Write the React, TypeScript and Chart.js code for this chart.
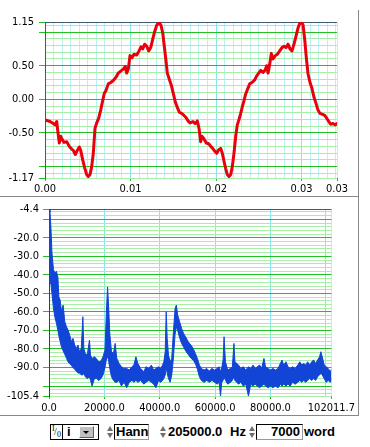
import React, { useEffect, useRef } from "react";
import { Chart, registerables } from "chart.js";

Chart.register(...registerables);

// ---------- time signal (top graph) ----------
const TIME_MS = [
  0, 0.117, 0.585, 0.971, 1.169, 1.368, 1.485, 1.672, 1.836, 2.023,
  2.222, 2.538, 2.842, 3.122, 3.309, 3.543, 3.777, 4.011, 4.175, 4.409,
  4.643, 4.876, 5.064, 5.262, 5.461, 5.648, 5.847, 6.046, 6.28, 6.513,
  6.747, 6.934, 7.133, 7.402, 7.683, 7.987, 8.303, 8.572, 8.852, 9.156,
  9.39, 9.554, 9.741, 9.94, 10.174, 10.408, 10.723, 10.992, 11.226, 11.425,
  11.659, 11.893, 12.127, 12.361, 12.594, 12.828, 13.062, 13.331, 13.565, 13.764,
  13.951, 14.15, 14.302, 14.536, 14.77, 15.003, 15.237, 15.471, 15.705, 15.986,
  16.255, 16.489, 16.722, 16.956, 17.307, 17.576, 17.81, 18.009, 18.208, 18.36,
  18.594, 18.863, 19.143, 19.377, 19.611, 19.845, 20.079, 20.313, 20.547, 20.734,
  20.932, 21.131, 21.318, 21.517, 21.716, 21.903, 22.101, 22.3, 22.487, 22.686,
  22.885, 23.072, 23.271, 23.47, 23.657, 23.938, 24.206, 24.522, 24.756, 24.99,
  25.224, 25.493, 25.762, 25.925, 26.077, 26.276, 26.463, 26.662, 26.931, 27.165,
  27.446, 27.714, 27.948, 28.182, 28.416, 28.65, 28.884, 29.118, 29.352, 29.586,
  29.82, 29.972, 30.171, 30.37, 30.557, 30.756, 30.99, 31.223, 31.457, 31.691,
  31.925, 32.159, 32.393, 32.709, 32.942, 33.176, 33.41, 33.679, 33.948, 34.146,
];
const WAVE = [
  -0.32, -0.31, -0.33, -0.36, -0.38, -0.33, -0.46, -0.65, -0.55, -0.6,
  -0.64, -0.63, -0.7, -0.74, -0.76, -0.82, -0.76, -0.71, -0.76, -0.9,
  -1.02, -1.12, -1.15, -1.12, -1.0, -0.8, -0.43, -0.35, -0.28, -0.16,
  -0.02, 0.09, 0.13, 0.23, 0.25, 0.28, 0.33, 0.39, 0.42, 0.45,
  0.49, 0.39, 0.45, 0.65, 0.62, 0.67, 0.66, 0.72, 0.78, 0.75,
  0.82, 0.79, 0.72, 0.77, 0.89, 1.01, 1.1, 1.15, 1.1, 0.99,
  0.79, 0.57, 0.39, 0.3, 0.21, 0.09, -0.04, -0.12, -0.19, -0.21,
  -0.24, -0.27, -0.32, -0.35, -0.33, -0.36, -0.32, -0.43, -0.63, -0.55,
  -0.59, -0.65, -0.66, -0.7, -0.73, -0.77, -0.8, -0.75, -0.73, -0.8,
  -0.92, -1.03, -1.12, -1.15, -1.12, -1.0, -0.8, -0.55, -0.38, -0.3,
  -0.21, -0.11, -0.02, 0.08, 0.14, 0.23, 0.25, 0.29, 0.35, 0.39,
  0.43, 0.4, 0.44, 0.5, 0.39, 0.52, 0.68, 0.6, 0.65, 0.67,
  0.72, 0.77, 0.79, 0.77, 0.82, 0.75, 0.72, 0.82, 0.94, 1.06,
  1.14, 1.15, 1.11, 0.89, 0.62, 0.38, 0.25, 0.16, 0.03, -0.06,
  -0.16, -0.21, -0.22, -0.24, -0.28, -0.33, -0.37, -0.36, -0.38, -0.36,
];
const WAVE_X_MAX = 0.034146;
const WAVE_Y_MIN = -1.17;
const WAVE_Y_MAX = 1.15;
const WAVE_X_LABELS = [0, 0.01, 0.02, 0.03, WAVE_X_MAX];
const WAVE_Y_LABELS = [1.15, 0.5, 0, -0.5, -1.17];

// ---------- spectrum (bottom graph), band between upper & lower traces ----------
const FREQ_HZ = [
  0, 357, 713, 1070, 1605, 2140, 2675, 3210, 3567, 4031,
  4530, 5101, 5707, 6313, 6884, 7490, 8097, 8667, 9274, 9880,
  10451, 11056, 11663, 12234, 12591, 13090, 13804, 14624, 14981, 15587,
  16407, 17228, 17941, 18797, 19511, 20224, 20688, 21151, 21508, 22007,
  22578, 23291, 23898, 24504, 25325, 26145, 27108, 28071, 28998, 29961,
  30675, 31388, 32102, 33065, 34242, 35062, 36025, 36988, 37809, 38629,
  39592, 40305, 41019, 41482, 41982, 42338, 42695, 43159, 43765, 44336,
  44942, 45549, 46012, 46476, 47189, 47903, 48616, 49330, 50293, 51256,
  52076, 52896, 53610, 54323, 55037, 56000, 56963, 57890, 58853, 59816,
  60743, 61457, 61956, 62420, 62883, 63240, 63740, 64560, 65523, 66236,
  66807, 67164, 68484, 69304, 70160, 71088, 72050, 72871, 73727, 74440,
  75260, 76081, 76794, 77650, 78221, 79184, 80004, 80860, 81788, 82751,
  83571, 84177, 84784, 85604, 86318, 87138, 87994, 88922, 89884, 90598,
  91311, 92025, 92738, 93451, 94165, 94878, 95591, 96305, 97018, 97732,
  98195, 98695, 99408, 100122, 100835, 101655, 102011.7,
];
const SPEC_UPPER = [
  -4.4, -6, -15, -28, -37, -39, -38, -41, -52, -53.6,
  -59.9, -56.3, -65.3, -68, -69.8, -72.5, -76.1, -74.3, -77.9, -79.7,
  -77.9, -81.5, -79.7, -62.6, -79.7, -82.4, -83.3, -75.2, -83.3, -85.1,
  -84.2, -85.4, -86.9, -86.5, -84.2, -80.6, -61.7, -46.5, -56.3, -72.5,
  -81.5, -82.4, -77, -85.1, -87.8, -89.6, -90.5, -90.5, -91.4, -89.6,
  -88.7, -84.2, -87.8, -90.5, -92.3, -89.6, -90.5, -88.7, -91.4, -90.5,
  -89.6, -90.5, -88.7, -86.9, -81.5, -59.9, -74.3, -83.3, -86.9, -85.1,
  -70.7, -58.1, -56.3, -61.7, -65.3, -68.9, -71.6, -73.4, -76.1, -77.9,
  -79.7, -82.4, -85.1, -88.7, -90.5, -91.4, -90.5, -91.9, -90.5, -91.4,
  -90.5, -89.6, -92.3, -90, -86, -73.4, -86.9, -91.4, -90.5, -89.6,
  -77, -86.9, -88.7, -90.5, -89.6, -91.4, -89.6, -90.5, -88.7, -90.5,
  -89.6, -88.7, -90.5, -85.1, -89.6, -90.5, -91.4, -90.5, -91.4, -90.5,
  -87.8, -86, -88.7, -86.9, -89.6, -90.5, -89.6, -90.5, -88.7, -86.9,
  -88.7, -87.8, -88.7, -86.9, -88.7, -86.9, -86, -87.8, -86, -84.2,
  -81.5, -84.2, -88.7, -89.6, -90.5, -92.3, -91,
];
const SPEC_LOWER = [
  -44, -44, -45, -50, -58, -63, -66, -70, -73, -76,
  -79, -81, -83, -85, -87, -88, -89, -90, -91, -92,
  -93, -93, -94, -94, -93, -95, -96, -95, -97, -100,
  -96, -96, -97, -96, -94, -90, -86, -84, -86, -91,
  -95, -97, -98, -98, -97, -100, -98, -101, -98, -97,
  -98, -97, -98, -97, -99, -98, -97, -98, -99, -101,
  -97, -98, -97, -96, -94, -90, -93, -96, -98, -94,
  -85, -72, -68, -70, -74, -77, -79, -81, -83, -85,
  -86, -88, -91, -95, -97, -98, -97, -98, -97, -98,
  -99, -98, -105.4, -98, -97, -95, -97, -99, -98, -97,
  -95, -97, -99, -98, -100, -99, -105.4, -99, -100, -99,
  -100, -101, -100, -99, -100, -101, -100, -101, -100, -101,
  -99, -100, -99, -100, -99, -100, -98, -99, -98, -97,
  -98, -97, -98, -97, -96, -97, -96, -97, -95, -94,
  -93, -94, -96, -98, -97, -98, -96,
];
const SPEC_X_MAX = 102011.7;
const SPEC_Y_MIN = -105.4;
const SPEC_Y_MAX = -4.4;
const SPEC_X_LABELS = [0, 20000, 40000, 60000, 80000, SPEC_X_MAX];
const SPEC_Y_LABELS = [-4.4, -20, -30, -40, -50, -60, -70, -80, -90, -105.4];

// ---------- styling ----------
const FONT = "'Liberation Sans Narrow', 'DejaVu Sans Condensed', 'Liberation Sans', Arial, sans-serif";
const FRAME = "#3e5b70";
const GREEN = "#22c022";
const LGREEN = "#a8eea8";
const CYAN = "#86e6ee";
const LCYAN = "#b8f2f2";
const RED = "#e8000c";
const BLUE = "#1244d6";

const near = (a: number, b: number, eps = 1e-6) => Math.abs(a - b) < eps;
const inList = (v: number, list: number[]) => list.some((l) => near(v, l, 1e-4));

function stepTicks(min: number, max: number, step: number) {
  const out: number[] = [min];
  const first = Math.ceil(min / step - 1e-6) * step;
  for (let v = first; v < max - 1e-6; v += step) {
    if (!near(v, min, step * 0.3)) out.push(+v.toFixed(6));
  }
  out.push(max);
  return out;
}

export default function App() {
  const topRef = useRef<HTMLCanvasElement>(null);
  const botRef = useRef<HTMLCanvasElement>(null);

  useEffect(() => {
    document.body.style.margin = "0";
    const font = { family: FONT, size: 11 };

    // ---- top graph ----
    const waveXTicks = stepTicks(0, WAVE_X_MAX, 0.001);
    const waveYTicks = stepTicks(WAVE_Y_MIN, WAVE_Y_MAX, 0.1);
    const c1 = new Chart(topRef.current!, {
      type: "line",
      data: {
        datasets: [
          {
            data: TIME_MS.map((t, i) => ({ x: t / 1000, y: WAVE[i] })),
            borderColor: RED,
            borderWidth: 3,
            pointRadius: 0,
            tension: 0,
            fill: false,
            borderJoinStyle: "round",
            borderCapStyle: "round",
          },
        ],
      },
      options: {
        animation: false,
        responsive: false,
        events: [],
        layout: { padding: { top: 22, right: 21, left: 0, bottom: 0 } },
        plugins: { legend: { display: false }, tooltip: { enabled: false } },
        scales: {
          x: {
            type: "linear",
            min: 0,
            max: WAVE_X_MAX,
            afterBuildTicks: (s: any) => {
              s.ticks = waveXTicks.map((v) => ({ value: v }));
            },
            afterFit: (s: any) => {
              s.height = 18;
            },
            border: { display: false },
            grid: {
              lineWidth: 1,
              tickLength: 3,
              color: (ctx: any) => {
                const v = ctx.tick?.value ?? 0;
                if (near(v, 0)) return "rgba(0,0,0,0)";
                if (inList(v, [0.01, 0.02, 0.03])) return CYAN;
                return LCYAN;
              },
              tickColor: (ctx: any) => (inList(ctx.tick?.value ?? -1, WAVE_X_LABELS) ? GREEN : "rgba(0,0,0,0)"),
            },
            ticks: {
              autoSkip: false,
              maxRotation: 0,
              minRotation: 0,
              padding: 2,
              color: "#000",
              font,
              callback: (v: any) => (inList(Number(v), WAVE_X_LABELS) ? Number(v).toFixed(2) : ""),
            },
          },
          y: {
            type: "linear",
            min: WAVE_Y_MIN,
            max: WAVE_Y_MAX,
            afterBuildTicks: (s: any) => {
              s.ticks = waveYTicks.map((v) => ({ value: v }));
            },
            afterFit: (s: any) => {
              s.width = 45;
            },
            border: { display: true, color: FRAME, width: 1 },
            grid: {
              lineWidth: 1,
              tickLength: 6,
              color: (ctx: any) => {
                const v = ctx.tick?.value ?? 0;
                if (near(v, WAVE_Y_MAX)) return FRAME;
                if (near(v, WAVE_Y_MIN)) return LGREEN;
                if (near(Math.round(v * 2) / 2, v, 1e-4)) return GREEN;
                return LGREEN;
              },
              tickColor: (ctx: any) => {
                const v = ctx.tick?.value ?? 0;
                if (inList(v, WAVE_Y_LABELS) || inList(v, [1, -1])) return GREEN;
                return "rgba(0,0,0,0)";
              },
            },
            ticks: {
              autoSkip: false,
              padding: 5,
              color: "#000",
              font,
              callback: (v: any) => (inList(Number(v), WAVE_Y_LABELS) ? Number(v).toFixed(2) : ""),
            },
          },
        },
      },
    } as any);

    // ---- bottom graph ----
    const specXTicks = [0, 20000, 40000, 60000, 80000, 100000, SPEC_X_MAX];
    const specYTicks = stepTicks(SPEC_Y_MIN, SPEC_Y_MAX, 2);
    const c2 = new Chart(botRef.current!, {
      type: "line",
      data: {
        datasets: [
          {
            data: FREQ_HZ.map((f, i) => ({ x: f, y: SPEC_UPPER[i] })),
            borderColor: BLUE,
            borderWidth: 1,
            pointRadius: 0,
            tension: 0,
            fill: false,
          },
          {
            data: FREQ_HZ.map((f, i) => ({ x: f, y: SPEC_LOWER[i] })),
            borderColor: BLUE,
            backgroundColor: BLUE,
            borderWidth: 1,
            pointRadius: 0,
            tension: 0,
            fill: "-1",
          },
        ],
      },
      options: {
        animation: false,
        responsive: false,
        events: [],
        layout: { padding: { top: 12, right: 23, left: 0, bottom: 0 } },
        plugins: { legend: { display: false }, tooltip: { enabled: false } },
        scales: {
          x: {
            type: "linear",
            min: 0,
            max: SPEC_X_MAX,
            afterBuildTicks: (s: any) => {
              s.ticks = specXTicks.map((v) => ({ value: v }));
            },
            afterFit: (s: any) => {
              s.height = 19;
            },
            border: { display: false },
            grid: {
              lineWidth: 1,
              tickLength: 3,
              color: (ctx: any) => {
                const v = ctx.tick?.value ?? 0;
                if (near(v, 0)) return "rgba(0,0,0,0)";
                if (near(v, SPEC_X_MAX, 0.01)) return LCYAN;
                return CYAN;
              },
              tickColor: (ctx: any) => (inList(ctx.tick?.value ?? -1, SPEC_X_LABELS) ? GREEN : "rgba(0,0,0,0)"),
            },
            ticks: {
              autoSkip: false,
              maxRotation: 0,
              minRotation: 0,
              padding: 3,
              color: "#000",
              font,
              callback: (v: any) => (inList(Number(v), SPEC_X_LABELS) ? Number(v).toFixed(1) : ""),
            },
          },
          y: {
            type: "linear",
            min: SPEC_Y_MIN,
            max: SPEC_Y_MAX,
            afterBuildTicks: (s: any) => {
              s.ticks = specYTicks.map((v) => ({ value: v }));
            },
            afterFit: (s: any) => {
              s.width = 49;
            },
            border: { display: true, color: "#23446e", width: 1 },
            grid: {
              lineWidth: 1,
              tickLength: 6,
              color: (ctx: any) => {
                const v = ctx.tick?.value ?? 0;
                if (near(v, SPEC_Y_MAX)) return FRAME;
                if (near(v, SPEC_Y_MIN)) return LGREEN;
                if (near(Math.round(v / 10) * 10, v, 1e-4)) return GREEN;
                return LGREEN;
              },
              tickColor: (ctx: any) => {
                const v = ctx.tick?.value ?? 0;
                if (inList(v, SPEC_Y_LABELS) || inList(v, [-10, -100])) return GREEN;
                return "rgba(0,0,0,0)";
              },
            },
            ticks: {
              autoSkip: false,
              padding: 4,
              color: "#000",
              font,
              callback: (v: any) => (inList(Number(v), SPEC_Y_LABELS) ? Number(v).toFixed(1) : ""),
            },
          },
        },
      },
    } as any);

    return () => {
      c1.destroy();
      c2.destroy();
    };
  }, []);

  const bold: React.CSSProperties = {
    position: "absolute",
    fontFamily: "'Liberation Sans', Arial, sans-serif",
    fontWeight: "bold",
    fontSize: 13,
    lineHeight: "14px",
    color: "#000",
    whiteSpace: "nowrap",
  };
  const spinner = (left: number) => (
    <>
      <div
        style={{
          position: "absolute", left, top: 426, width: 0, height: 0,
          borderLeft: "3px solid transparent", borderRight: "3px solid transparent",
          borderBottom: "5px solid #707070",
        }}
      />
      <div
        style={{
          position: "absolute", left, top: 433, width: 0, height: 0,
          borderLeft: "3px solid transparent", borderRight: "3px solid transparent",
          borderTop: "5px solid #707070",
        }}
      />
    </>
  );

  return (
    <div style={{ position: "relative", width: 370, height: 447, background: "#fff", overflow: "hidden" }}>
      <canvas ref={topRef} width={358} height={196} style={{ position: "absolute", left: 0, top: 0, width: 358, height: 196 }} />
      <canvas ref={botRef} width={358} height={218} style={{ position: "absolute", left: 0, top: 197, width: 358, height: 218 }} />
      {/* panel frames */}
      <div style={{ position: "absolute", left: 0, top: 196, width: 358, height: 1, background: "#888" }} />
      <div style={{ position: "absolute", left: 0, top: 415, width: 359, height: 1, background: "#888" }} />
      <div style={{ position: "absolute", left: 358, top: 10, width: 1, height: 406, background: "#888" }} />

      {/* control bar */}
      <div style={{ position: "absolute", left: 50, top: 424, width: 47, height: 14, border: "1px solid #000", background: "#fff" }}>
        <div style={{ position: "absolute", left: 0, top: 0, width: 11, height: 14, borderRight: "1px solid #000" }}>
          <span style={{ position: "absolute", left: 1, top: -1, fontFamily: "'Liberation Serif', serif", fontSize: 8, lineHeight: "9px" }}>I</span>
          <span style={{ position: "absolute", left: 3, top: 2, fontFamily: "'Liberation Serif', serif", fontSize: 10, lineHeight: "10px" }}>/</span>
          <span style={{ position: "absolute", left: 6, top: 6, fontFamily: "'Liberation Serif', serif", fontSize: 8, lineHeight: "8px" }}>0</span>
        </div>
        <span style={{ ...bold, left: 16, top: 0 }}>i</span>
        <div
          style={{
            position: "absolute", left: 28, top: 1, width: 13, height: 10, background: "#c0c0c0",
            borderTop: "1px solid #fff", borderLeft: "1px solid #fff", borderRight: "1px solid #606060", borderBottom: "1px solid #606060",
          }}
        >
          <div
            style={{
              position: "absolute", left: 3, top: 4, width: 0, height: 0,
              borderLeft: "3px solid transparent", borderRight: "3px solid transparent", borderTop: "3px solid #000",
            }}
          />
        </div>
      </div>

      {spinner(107)}
      <div style={{ position: "absolute", left: 114, top: 424, width: 33, height: 14, border: "1px solid #000", borderRight: "1px solid #999", borderBottom: "1px solid #999" }}>
        <span style={{ ...bold, left: 1, top: 0 }}>Hann</span>
      </div>

      {spinner(160)}
      <span style={{ ...bold, left: 168, top: 425 }}>205000.0</span>
      <span style={{ ...bold, left: 230, top: 425 }}>Hz</span>

      {spinner(249)}
      <div style={{ position: "absolute", left: 256, top: 424, width: 45, height: 14, border: "1px solid #000", borderRight: "1px solid #999", borderBottom: "1px solid #999" }}>
        <span style={{ ...bold, right: 2, top: 0 }}>7000</span>
      </div>
      <span style={{ ...bold, left: 304, top: 425 }}>word</span>
    </div>
  );
}
